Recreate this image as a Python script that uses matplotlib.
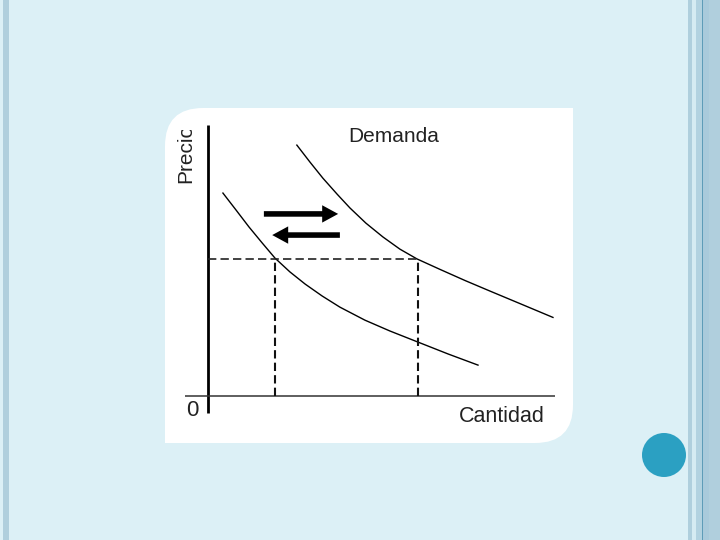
import matplotlib

matplotlib.use("Agg")
import matplotlib.pyplot as plt
from matplotlib.patches import Rectangle, FancyBboxPatch, Circle, FancyArrowPatch
from matplotlib.transforms import Bbox, TransformedBbox

plt.rcParams["font.family"] = ["Liberation Sans", "DejaVu Sans"]

# demand curves (cantidad, precio)
q_low = [0.43, 0.81, 1.18, 1.56, 1.93, 2.36, 2.80, 3.29, 3.80, 4.52, 5.24, 6.05, 6.92, 7.78]
p_low = [7.49, 6.86, 6.24, 5.65, 5.09, 4.58, 4.13, 3.69, 3.28, 2.80, 2.40, 1.99, 1.55, 1.14]
q_high = [2.56, 2.94, 3.31, 3.72, 4.09, 4.55, 5.04, 5.53, 6.02, 6.69, 7.41, 8.13, 8.99, 9.94]
p_high = [9.26, 8.63, 8.04, 7.45, 6.94, 6.38, 5.87, 5.42, 5.06, 4.67, 4.26, 3.87, 3.41, 2.90]

price_eq = 5.07
qty_eq = [1.93, 6.05]

# shift arrows: (y, x_from, x_to)
arrow_right = (6.72, 1.61, 3.75)
arrow_left = (5.94, 3.80, 1.85)

fig = plt.figure(figsize=(7.2, 5.4), dpi=100)
fig.patch.set_facecolor("#dcf0f6")

# slide decoration in pixel coords
bg = fig.add_axes([0, 0, 1, 1])
bg.set_xlim(0, 720)
bg.set_ylim(540, 0)
bg.axis("off")
bg.add_patch(Rectangle((3, 0), 6, 540, color="#b0cfdd", lw=0))
for x0, w, c in [(688, 4, "#afcfdd"), (692, 4, "#d5ebf2"), (696, 6, "#b2d2e0"),
                 (702, 1.2, "#5e9cb8"), (703.2, 6, "#a9cadb"), (709, 11, "#b0cfdd")]:
    bg.add_patch(Rectangle((x0, 0), w, 540, color=c, lw=0))
bg.add_patch(Circle((664, 455), 22, color="#2ba0c2", lw=0))

# white picture with two rounded corners
bg.add_patch(FancyBboxPatch((165, 108), 408, 335, boxstyle="round,pad=0,rounding_size=38",
                            fc="white", ec="none"))
bg.add_patch(Rectangle((530, 108), 43, 60, fc="white", ec="none"))
bg.add_patch(Rectangle((165, 390), 60, 53, fc="white", ec="none"))

ax = fig.add_axes([0.2407, 0.2165, 0.5543, 0.5770])
ax.set_xlim(-1, 10.5)
ax.set_ylim(-1, 10.5)
ax.axis("off")
ax.patch.set_alpha(0)

# axes lines
ax.plot([0, 0], [-0.63, 10.0], color="black", lw=2.0, solid_capstyle="butt")
ax.plot([-0.66, 10.0], [0, 0], color="#333333", lw=1.1, solid_capstyle="butt")

# demand curves
ax.plot(q_low, p_low, color="black", lw=1.0, solid_joinstyle="round")
ax.plot(q_high, p_high, color="black", lw=1.0, solid_joinstyle="round")

# dashed guides
ax.plot([0, qty_eq[1]], [price_eq, price_eq], color="#222222", lw=1.2, dashes=(5, 2.5))
for q in qty_eq:
    ax.plot([q, q], [0, price_eq], color="#111111", lw=1.5, dashes=(4, 2))

for y, x0, x1 in [arrow_right, arrow_left]:
    ax.add_patch(FancyArrowPatch((x0, y), (x1, y),
                                 arrowstyle="simple,head_length=1.15,head_width=1.25,tail_width=0.4",
                                 mutation_scale=10, color="black", lw=0,
                                 shrinkA=0, shrinkB=0))

ax.text(5.36, 9.56, "Demanda", fontsize=15, color="#222222", ha="center", va="center")
ax.text(8.47, -0.74, "Cantidad", fontsize=15.5, color="#222222", ha="center", va="center")
ax.text(-0.46, -0.55, "0", fontsize=16, color="#222222", ha="center", va="center")
t = ax.text(-0.65, 7.86, "Precio", fontsize=15, color="#222222", rotation=90,
            ha="center", va="bottom")
t.set_clip_box(TransformedBbox(Bbox([[-2, -1], [1, 9.82]]), ax.transData))
t.set_clip_on(True)

fig.savefig("out.png", dpi=100, facecolor=fig.get_facecolor())
